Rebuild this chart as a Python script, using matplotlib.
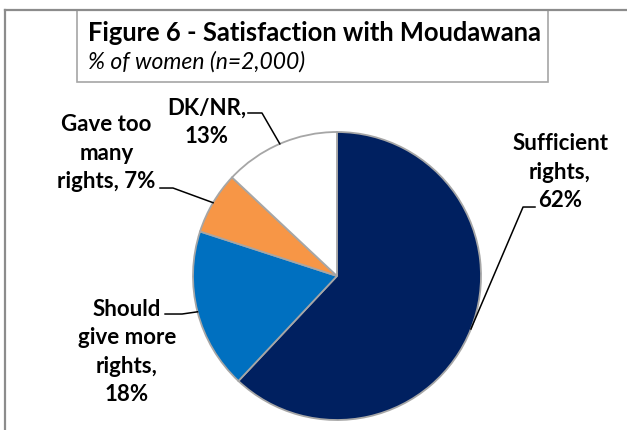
import matplotlib
matplotlib.use("Agg")
import matplotlib.pyplot as plt
import numpy as np
from matplotlib.lines import Line2D
from matplotlib.patches import Rectangle

# ---- data ----
categories = ["Sufficient\nrights,", "Should\ngive more\nrights,", "Gave too\nmany\nrights,", "DK/NR,"]
values = [62, 18, 7, 13]
colors = ["#002060", "#0070C0", "#F79646", "#FFFFFF"]
title = "Figure 6 - Satisfaction with Moudawana"
subtitle = "% of women (n=2,000)"

plt.rcParams['font.family'] = ['Lato', 'DejaVu Sans']

W, H = 627, 430
fig = plt.figure(figsize=(W / 100, H / 100), dpi=100)

def fx(px):
    return px / W

def fy(py):
    return 1 - py / H

# outer frame (only top/left visible)
frame_col = "#8C8C8C"
fig.add_artist(Line2D([fx(5), fx(5)], [fy(10), fy(432)], color=frame_col, lw=1.6, transform=fig.transFigure))
fig.add_artist(Line2D([fx(5), fx(630)], [fy(10), fy(10)], color=frame_col, lw=1.6, transform=fig.transFigure))

# title box
fig.add_artist(Rectangle((fx(77), fy(82)), fx(548) - fx(77), fy(10) - fy(82),
                         facecolor="white", edgecolor="#A6A6A6", lw=1.2, transform=fig.transFigure))
fig.text(fx(88), fy(33), title, fontsize=18.4, fontweight="bold", ha="left", va="center")
fig.text(fx(88), fy(62), subtitle, fontsize=16.5, fontstyle="italic", ha="left", va="center")

# pie axes: center (337,276), radius 144 px
cx, cy, r = 337, 276, 144
ax = fig.add_axes([fx(cx - r), fy(cy + r), 2 * r / W, 2 * r / H])
wedges, _ = ax.pie(values, colors=colors, startangle=90, counterclock=False, radius=1,
                   wedgeprops=dict(edgecolor="#A6A6A6", linewidth=1.3))
ax.set_xlim(-1, 1)
ax.set_ylim(-1, 1)
ax.set_aspect("equal")
ax.axis("off")

# label positions (data coords, relative to pie radius) and leader elbows
label_pos = [(1.549, 0.722), (-1.458, -0.528), (-1.601, 0.854), (-0.903, 1.069)]
elbows = [((1.375, 0.479), (1.292, 0.479)),
          ((-1.194, -0.264), (-1.076, -0.264)),
          ((-1.229, 0.611), (-1.139, 0.611)),
          ((-0.618, 1.132), (-0.521, 1.132))]

total = sum(values)
cum = 0
for i, v in enumerate(values):
    mid = (cum + v / 2) / total
    cum += v
    ang = np.deg2rad(90 - 360 * mid)
    px, py = np.cos(ang), np.sin(ang)
    (x1, y1), (x2, y2) = elbows[i]
    ax.plot([x1, x2, px], [y1, y2, py], color="black", lw=1.1, clip_on=False)
    lx, ly = label_pos[i]
    ax.text(lx, ly, f"{categories[i]} {values[i]}%" if i == 2 else f"{categories[i]}\n{values[i]}%",
            ha="center", va="center", fontsize=16, fontweight="bold", linespacing=1.42,
            clip_on=False)

fig.savefig("out.png", dpi=100)
